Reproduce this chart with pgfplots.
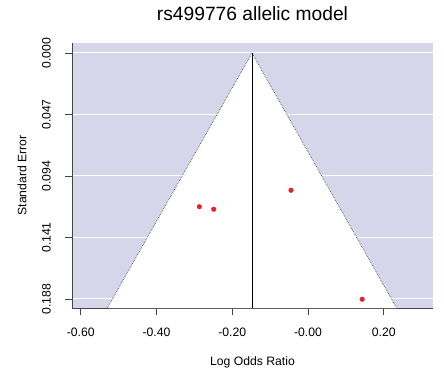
\documentclass[border=0pt]{standalone}
\usepackage{pgfplots}
\pgfplotsset{compat=1.18}
\usepackage{fontspec}
\setmainfont{Liberation Sans}
\definecolor{panel}{RGB}{214,214,235}
\definecolor{ptred}{RGB}{236,28,44}
\definecolor{axgray}{RGB}{70,70,70}
\begin{document}
\begin{tikzpicture}[x=1pt,y=1pt]
\useasboundingbox (0,0) rectangle (444,370);
\begin{axis}[
  at={(72pt,62pt)}, anchor=south west,
  width=361pt, height=265pt, scale only axis,
  xmin=-0.6231, xmax=0.330, ymin=-0.00764, ymax=0.1949,
  y dir=reverse,
  axis x line*=bottom, axis y line*=left,
  axis line style={axgray, line width=0.8pt, -},
  axis background/.style={fill=panel},
  ymajorgrids, major grid style={white, line width=1pt},
  tick align=outside, major tick length=7pt,
  tick style={axgray, line width=0.8pt},
  xtick={-0.6,-0.4,-0.2,0,0.2},
  xticklabels={-0.60,-0.40,-0.20,-0.00,0.20},
  ytick={0,0.047,0.094,0.141,0.188},
  yticklabels={0.000,0.047,0.094,0.141,0.188},
  ticklabel style={font=\fontsize{12.2}{14}\selectfont},
  xticklabel style={anchor=center, yshift=-17pt},
  yticklabel style={rotate=90, anchor=center},
  yticklabel shift=18.5pt,
  title={rs499776 allelic model},
  title style={font=\fontsize{19.2}{22}\selectfont, at={([yshift=23pt]axis description cs:0.5,1)}, anchor=center},
  xlabel={Log Odds Ratio},
  xlabel style={font=\fontsize{12.2}{14}\selectfont, at={([yshift=-54pt]axis description cs:0.5,0)}, anchor=center},
  ylabel={Standard Error},
  ylabel style={font=\fontsize{12.2}{14}\selectfont, at={([xshift=-50pt]axis description cs:0,0.5)}, anchor=center, rotate=0},
  clip mode=individual,
]
\addplot[fill=white, draw=none] coordinates {(-0.530,0.1949) (-0.148,0) (0.234,0.1949)} -- cycle;
\addplot[densely dotted, black!70, line width=0.7pt] coordinates {(-0.530,0.1949) (-0.148,0) (0.234,0.1949)};
\addplot[black, line width=0.7pt] coordinates {(-0.148,0) (-0.148,0.1949)};
\addplot[only marks, mark=*, mark size=2.3pt, color=ptred] coordinates {(-0.287,0.1175) (-0.249,0.1194) (-0.045,0.1049) (0.143,0.1882)};
\end{axis}
\end{tikzpicture}
\end{document}
